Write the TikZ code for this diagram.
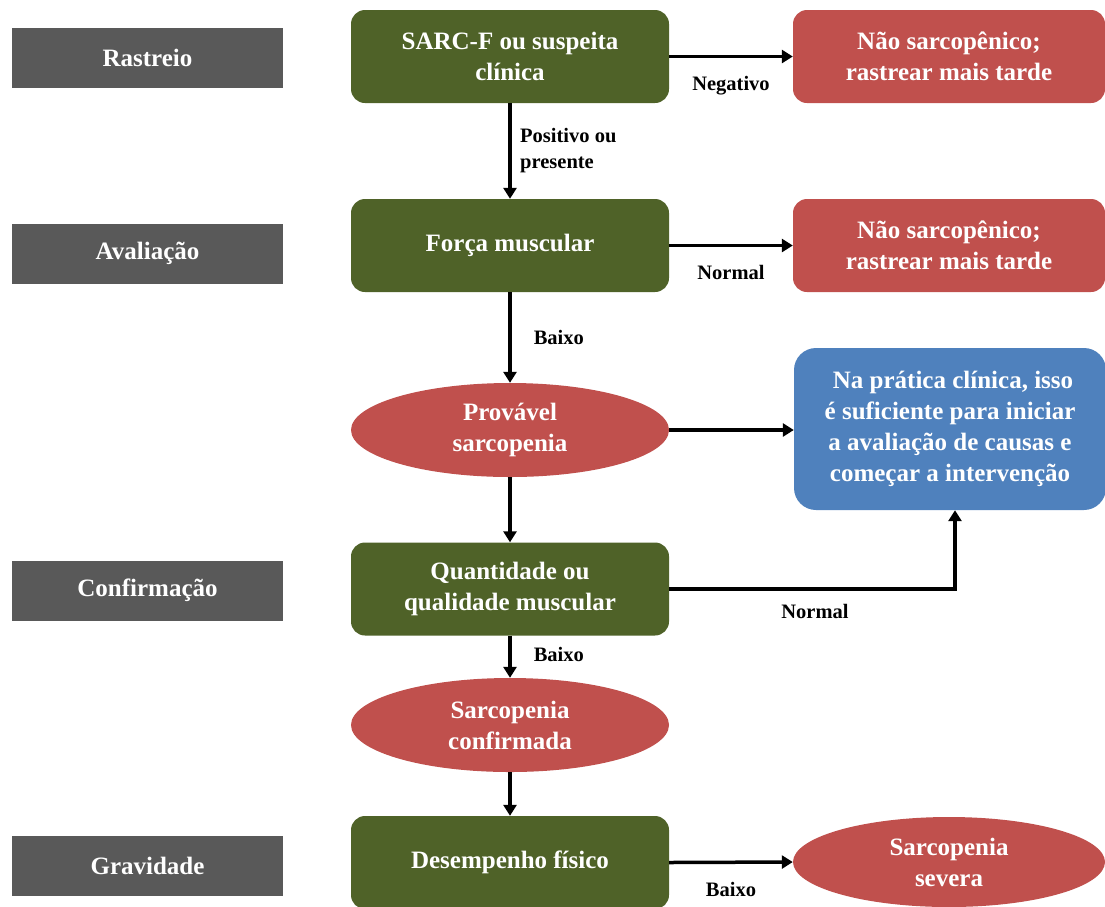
\documentclass[tikz,border=0pt]{standalone}
\usepackage{fontspec}
\setmainfont{Liberation Serif}
\usetikzlibrary{shapes.geometric,arrows.meta}
\definecolor{stagegray}{HTML}{595959}
\definecolor{stepgreen}{HTML}{4F6228}
\definecolor{alertred}{HTML}{C0504D}
\definecolor{noteblue}{HTML}{4F81BD}
\tikzset{
  txt/.style={text=white,font=\bfseries\fontsize{25}{31}\selectfont,align=center},
  stage/.style={txt,fill=stagegray,minimum width=271pt,minimum height=60pt,inner sep=0pt},
  stepbox/.style={txt,fill=stepgreen,rounded corners=14pt,minimum width=318pt,minimum height=93pt,inner sep=0pt},
  redbox/.style={txt,fill=alertred,rounded corners=14pt,minimum width=312pt,minimum height=93pt,inner sep=0pt},
  bluebox/.style={txt,fill=noteblue,rounded corners=22pt,minimum width=312pt,minimum height=162pt,inner sep=0pt},
  oval/.style={txt,ellipse,fill=alertred,minimum width=318pt,minimum height=94pt,inner sep=0pt},
  conn/.style={line width=3.5pt,-{Triangle[length=11pt,width=13pt]}},
  lbl/.style={font=\bfseries\fontsize{20.5}{26}\selectfont,text=black,inner sep=0pt}
}
\begin{document}
\begin{tikzpicture}[x=1pt,y=-1pt]
\useasboundingbox (0,0) rectangle (1105,906);
\clip (0,0) rectangle (1105,906);

% stage labels on the left
\node[stage] (s1) at (147.5,58) {Rastreio};
\node[stage] (s2) at (147.5,253.5) {Avaliação};
\node[stage] (s3) at (147.5,590.5) {Confirmação};
\node[stage] (s4) at (147.5,866) {Gravidade};

% main column
\node[stepbox] (sarcf) at (510,56.5) {SARC-F ou suspeita\\clínica};
\node[stepbox] (forca) at (510,245.5) {Força muscular};
\node[oval] (prov) at (510,430) {Provável\\sarcopenia};
\node[stepbox] (quant) at (510,589) {Quantidade ou\\qualidade muscular};
\node[oval] (conf) at (510,725) {Sarcopenia\\confirmada};
\node[stepbox] (desemp) at (510,862.5) {Desempenho físico};

% outcomes on the right
\node[redbox] (neg1) at (949,56.5) {Não sarcopênico;\\rastrear mais tarde};
\node[redbox] (neg2) at (949,245.5) {Não sarcopênico;\\rastrear mais tarde};
\node[bluebox] (note) at (950,429) {\hspace*{6pt}Na prática clínica, isso\\é suficiente para iniciar\\a avaliação de causas e\\começar a intervenção};
\node[oval,minimum width=312pt,minimum height=90pt] (sev) at (949,862) {Sarcopenia\\severa};

% connectors
\draw[conn] (sarcf.east) -- (neg1.west) node[lbl,pos=0.5,below=18pt] {Negativo};
\draw[conn] (sarcf.south) -- (forca.north);
\node[lbl,align=left,anchor=west] (pos) at (520,151) {Positivo ou\\presente};
\draw[conn] (forca.east) -- (neg2.west) node[lbl,pos=0.5,below=18pt] {Normal};
\draw[conn] (forca.south) -- (prov.north) node[lbl,pos=0.5,right=22pt] {Baixo};
\draw[conn] (prov.east) -- (note.west |- prov.east);
\draw[conn] (prov.south) -- (quant.north);
\coordinate (bend) at (955,589);
\draw[conn] (quant.east) -- (bend) -- (note.south -| bend);
\node[lbl] (nlbl) at (815,611) {Normal};
\draw[conn] (quant.south) -- (conf.north) node[lbl,pos=0.45,right=22pt] {Baixo};
\draw[conn] (conf.south) -- (desemp.north);
\draw[conn] (desemp.east) -- (sev.west) node[lbl,pos=0.5,below=18pt] {Baixo};
\end{tikzpicture}
\end{document}
